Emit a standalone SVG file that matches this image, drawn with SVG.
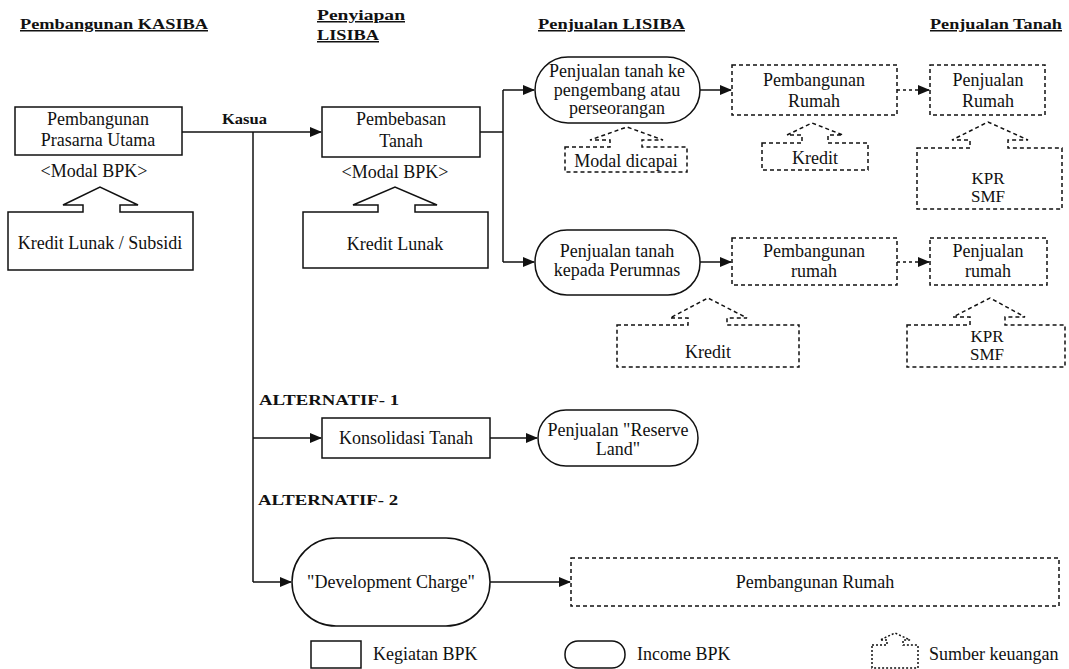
<svg xmlns="http://www.w3.org/2000/svg" width="1069" height="669" viewBox="0 0 1069 669">
<style>
text{font-family:"Liberation Serif","Times New Roman",serif;fill:#111;}
.t{font-size:18px;text-anchor:middle;}
.k{font-size:17px;text-anchor:middle;}
.h{font-size:15px;font-weight:bold;text-decoration:underline;}
.b{font-size:15px;font-weight:bold;}
.box{fill:#fff;stroke:#111;stroke-width:1.5;}
.dash{fill:#fff;stroke:#111;stroke-width:1.5;stroke-dasharray:4 3;}
.ln{fill:none;stroke:#111;stroke-width:1.5;}
.dl{fill:none;stroke:#111;stroke-width:1.5;stroke-dasharray:3 3;}
</style>
<defs>
<marker id="ah" markerWidth="12" markerHeight="10" refX="11" refY="5" orient="auto" markerUnits="userSpaceOnUse"><path d="M0,0 L12,5 L0,10 Z" fill="#111"/></marker>
</defs>
<rect width="1069" height="669" fill="#fff"/>

<g id="headers">
<text class="h" x="20" y="29" textLength="188" lengthAdjust="spacingAndGlyphs">Pembangunan KASIBA</text>
<text class="h" x="317" y="20" textLength="88" lengthAdjust="spacingAndGlyphs">Penyiapan</text>
<text class="h" x="317" y="40" textLength="62" lengthAdjust="spacingAndGlyphs">LISIBA</text>
<text class="h" x="538" y="29" textLength="147" lengthAdjust="spacingAndGlyphs">Penjualan LISIBA</text>
<text class="h" x="930" y="29" textLength="132" lengthAdjust="spacingAndGlyphs">Penjualan Tanah</text>
<text class="b" x="222" y="124" textLength="45" lengthAdjust="spacingAndGlyphs">Kasua</text>
<text class="b" x="259" y="405" textLength="140" lengthAdjust="spacingAndGlyphs">ALTERNATIF- 1</text>
<text class="b" x="258" y="505" textLength="140" lengthAdjust="spacingAndGlyphs">ALTERNATIF- 2</text>
</g>

<g id="connectors">
<path class="ln" d="M182,132 H321" marker-end="url(#ah)"/>
<path class="ln" d="M253,132 V582"/>
<path class="ln" d="M480,132 H503"/>
<path class="ln" d="M503,90 V262"/>
<path class="ln" d="M503,90 H534" marker-end="url(#ah)"/>
<path class="ln" d="M503,262 H534" marker-end="url(#ah)"/>
<path class="ln" d="M700,90 H731" marker-end="url(#ah)"/>
<path class="dl" d="M897,90 H929" marker-end="url(#ah)"/>
<path class="ln" d="M700,262 H731" marker-end="url(#ah)"/>
<path class="dl" d="M897,262 H929" marker-end="url(#ah)"/>
<path class="ln" d="M253,438 H321" marker-end="url(#ah)"/>
<path class="ln" d="M490,438 H537" marker-end="url(#ah)"/>
<path class="ln" d="M253,582 H291" marker-end="url(#ah)"/>
<path class="ln" d="M490,582 H570" marker-end="url(#ah)"/>
</g>

<g id="pembangunan-prasarna">
<rect class="box" x="15" y="107" width="167" height="48"/>
<text class="t" x="98" y="125">Pembangunan</text>
<text class="t" x="98" y="146">Prasarna Utama</text>
<text class="t" x="94" y="177">&lt;Modal  BPK&gt;</text>
</g>
<g id="kredit-lunak-subsidi">
<path class="box" d="M8,212 H83 V205 H63 L100,187 L138,205 H120 V212 H193 V270 H8 Z"/>
<text class="t" x="100" y="249">Kredit Lunak / Subsidi</text>
</g>

<g id="pembebasan-tanah">
<rect class="box" x="322" y="107" width="158" height="50"/>
<text class="t" x="401" y="125">Pembebasan</text>
<text class="t" x="401" y="147">Tanah</text>
<text class="t" x="395" y="178">&lt;Modal  BPK&gt;</text>
</g>
<g id="kredit-lunak">
<path class="box" d="M303,212 H378 V205 H353 L395,187 L437,205 H415 V212 H488 V268 H303 Z"/>
<text class="t" x="395" y="250">Kredit  Lunak</text>
</g>

<g id="penjualan-pengembang">
<rect class="box" x="535" y="57" width="165" height="66" rx="33"/>
<text class="t" x="617" y="77">Penjualan  tanah ke</text>
<text class="t" x="617" y="96">pengembang atau</text>
<text class="t" x="617" y="114">perseorangan</text>
</g>
<g id="modal-dicapai">
<path class="dash" d="M565,147 H610 V140 H590 L627,127 L663,140 H642 V147 H687 V172 H565 Z"/>
<text class="t" x="626" y="167">Modal dicapai</text>
</g>

<g id="pembangunan-rumah-1">
<rect class="dash" x="732" y="65" width="165" height="50"/>
<text class="t" x="814" y="86">Pembangunan</text>
<text class="t" x="814" y="107">Rumah</text>
</g>
<g id="kredit-1">
<path class="dash" d="M762,143 H802 V135 H787 L812,123 L843,135 H828 V143 H868 V170 H762 Z"/>
<text class="t" x="815" y="164">Kredit</text>
</g>

<g id="penjualan-rumah-1">
<rect class="dash" x="930" y="65" width="115" height="50"/>
<text class="t" x="988" y="86">Penjualan</text>
<text class="t" x="988" y="107">Rumah</text>
</g>
<g id="kpr-smf-1">
<path class="dash" d="M917,148 H970 V140 H952 L988,122 L1028,140 H1008 V148 H1062 V209 H917 Z"/>
<text class="k" x="988" y="184">KPR</text>
<text class="k" x="988" y="202">SMF</text>
</g>

<g id="penjualan-perumnas">
<rect class="box" x="535" y="230" width="165" height="65" rx="32"/>
<text class="t" x="617" y="257">Penjualan tanah</text>
<text class="t" x="617" y="276">kepada Perumnas</text>
</g>
<g id="pembangunan-rumah-2">
<rect class="dash" x="732" y="238" width="165" height="47"/>
<text class="t" x="814" y="257">Pembangunan</text>
<text class="t" x="814" y="277">rumah</text>
</g>
<g id="kredit-2">
<path class="dash" d="M617,325 H688 V318 H670 L708,298 L747,318 H727 V325 H799 V367 H617 Z"/>
<text class="t" x="708" y="358">Kredit</text>
</g>
<g id="penjualan-rumah-2">
<rect class="dash" x="930" y="238" width="117" height="47"/>
<text class="t" x="988" y="257">Penjualan</text>
<text class="t" x="988" y="277">rumah</text>
</g>
<g id="kpr-smf-2">
<path class="dash" d="M907,325 H970 V317 H953 L990,298 L1025,317 H1005 V325 H1065 V367 H907 Z"/>
<text class="k" x="987" y="342">KPR</text>
<text class="k" x="987" y="360">SMF</text>
</g>

<g id="konsolidasi-tanah">
<rect class="box" x="322" y="418" width="168" height="40"/>
<text class="t" x="406" y="444">Konsolidasi Tanah</text>
</g>
<g id="reserve-land">
<rect class="box" x="538" y="410" width="160" height="56" rx="28"/>
<text class="t" x="618" y="436">Penjualan "Reserve</text>
<text class="t" x="618" y="455">Land"</text>
</g>

<g id="development-charge">
<rect class="box" x="292" y="538" width="198" height="88" rx="44"/>
<text class="t" x="391" y="588">"Development Charge"</text>
</g>
<g id="pembangunan-rumah-3">
<rect class="dash" x="571" y="558" width="488" height="48"/>
<text class="t" x="815" y="588">Pembangunan Rumah</text>
</g>

<g id="legend">
<rect class="box" x="311" y="641" width="50" height="27"/>
<text x="373" y="660" style="font-size:18px">Kegiatan BPK</text>
<rect class="box" x="565" y="641" width="60" height="27" rx="13"/>
<text x="637" y="660" style="font-size:18px">Income BPK</text>
<path class="dash" d="M872,645 H887 V640 H880 L895,633 L910,640 H903 V645 H918 V668 H872 Z" style="stroke-dasharray:2 2"/>
<text x="929" y="660" style="font-size:18px">Sumber keuangan</text>
</g>
</svg>
